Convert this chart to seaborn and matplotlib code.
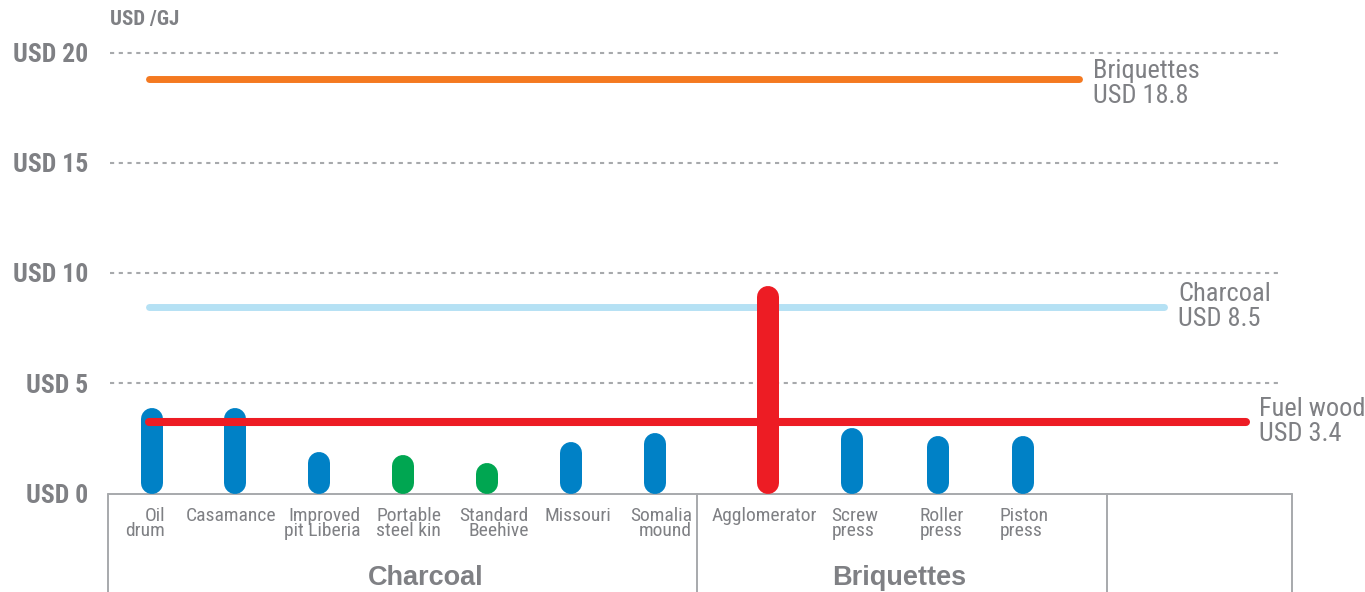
import numpy as np
import pandas as pd
import matplotlib
matplotlib.use("Agg")
import matplotlib.pyplot as plt
import seaborn as sns

# ---------------- data ----------------
categories = ["Oil\ndrum", "Casamance", "Improved\npit Liberia", "Portable\nsteel kin",
              "Standard\nBeehive", "Missouri", "Somalia\nmound",
              "Agglomerator", "Screw\npress", "Roller\npress", "Piston\npress"]
groups = ["Charcoal"] * 7 + ["Briquettes"] * 4
values = [3.9, 3.9, 1.9, 1.75, 1.4, 2.35, 2.75, 9.4, 2.95, 2.6, 2.6]
bar_kind = ["blue", "blue", "blue", "green", "green", "blue", "blue",
            "red", "blue", "blue", "blue"]
ref_names = ["Briquettes", "Charcoal", "Fuel wood"]
ref_values = [18.8, 8.46, 3.25]
ref_labels = ["USD 18.8", "USD 8.5", "USD 3.4"]
y_ticks = [0, 5, 10, 15, 20]
y_tick_labels = ["USD 0", "USD 5", "USD 10", "USD 15", "USD 20"]
unit_label = "USD /GJ"

# ---------------- style ----------------
sns.set_theme(style="white")
NARROW = ["Roboto Condensed", "Fira Sans Condensed", "Liberation Sans Narrow", "DejaVu Sans"]
WIDE = ["Liberation Sans", "DejaVu Sans"]
plt.rcParams["font.family"] = NARROW

GRAY_TXT = "#7f8084"
GRAY_LN = "#a7a9ac"
palette = {"blue": "#0081c6", "green": "#00a651", "red": "#ed1c24"}
ref_colors = ["#f47920", "#b5e1f4", "#ed1c24"]
ref_lw = [5.0, 5.0, 5.8]
ref_zorder = [3, 1, 3]

W, H = 1365, 592
PX_X = 83.9      # pixels per category step
PX_Y = 22.05     # pixels per USD
X0 = 151.5       # pixel of first category
Y0 = 493.5       # pixel of zero line


def px2x(p):
    return (p - X0) / PX_X


def px2y(p):
    return (Y0 - p) / PX_Y


fig = plt.figure(figsize=(W / 100, H / 100), dpi=100)
ax = fig.add_axes([110 / W, (H - Y0) / H, 1170 / W, 21 * PX_Y / H])
ax.set_xlim(px2x(110), px2x(1280))
ax.set_ylim(0, 21)
for s in ax.spines.values():
    s.set_visible(False)
ax.set_xticks([])
ax.set_yticks(y_ticks)
ax.set_yticklabels(y_tick_labels, fontsize=18.5, fontweight="bold", color=GRAY_TXT,
                   family=NARROW)
ax.tick_params(axis="y", length=0, pad=15.8)

# dashed grid
ax.hlines([t for t in y_ticks if t > 0], px2x(110), px2x(1280), colors=GRAY_LN,
          linewidth=1.5, linestyles=(0, (2, 2.2)), zorder=0)

# positions (layout)
positions = [0, 1, 2, 3, 4, 5, 6, 7.35, 8.35, 9.37, 10.39]

# bars as rounded thick lines
bar_lw_px = 22
cap = (bar_lw_px / 2) / PX_Y
rows = []
for i, (x, v, k) in enumerate(zip(positions, values, bar_kind)):
    rows.append({"bar": i, "x": x, "y": cap, "kind": k})
    rows.append({"bar": i, "x": x, "y": max(v - cap, cap), "kind": k})
df = pd.DataFrame(rows)
sns.lineplot(data=df, x="x", y="y", units="bar", estimator=None, hue="kind",
             palette=palette, linewidth=bar_lw_px * 0.72, solid_capstyle="round",
             legend=False, sort=False, ax=ax, zorder=2)
ax.set_xlabel("")
ax.set_ylabel("")

# reference lines
ref_start = [148.5, 148.5, 148.5]
ref_end = [1078.5, 1163.5, 1246]
ref_text_x = [1093, 1178, 1259]
ref_text_dy = [-0.2, 0.0, 0.0]
for name, val, lab, c, lw, z, xs, xe, xt, dy in zip(ref_names, ref_values, ref_labels,
                                                  ref_colors, ref_lw, ref_zorder,
                                                  ref_start, ref_end, ref_text_x, ref_text_dy):
    ax.plot([px2x(xs), px2x(xe)], [val, val], color=c, linewidth=lw,
            solid_capstyle="round", zorder=z, clip_on=False)
    ax.text(px2x(xt), val + dy, f"{name}\n{lab}", ha="left", va="center",
            fontsize=19, color=GRAY_TXT, linespacing=1.05, clip_on=False,
            family=NARROW)

# bottom box
box_x = [108, 697, 1107, 1292]
ax.plot([px2x(box_x[0]), px2x(box_x[-1])], [0, 0], color=GRAY_LN, linewidth=1.4,
        clip_on=False, zorder=1)
for bx in box_x:
    ax.plot([px2x(bx), px2x(bx)], [0, px2y(600)], color=GRAY_LN, linewidth=1.4,
            clip_on=False, zorder=1)

# category labels
label_dx = [-6, -4, 3, 5.5, 7, 7, 6, -3.5, 3, 4.5, 1]
label_align = ["right"] * 8 + ["left"] * 3
for x, lab, dx, al in zip(positions, categories, label_dx, label_align):
    ax.text(x + dx / PX_X, px2y(507), lab, ha="center", va="top", multialignment=al,
            fontsize=14, color=GRAY_TXT, linespacing=0.8, clip_on=False,
            family=NARROW)

# group labels
group_names = list(dict.fromkeys(groups))
group_px = [426, 899]
for g, gx in zip(group_names, group_px):
    ax.text(px2x(gx), px2y(578), g, ha="center", va="center", fontsize=19.5,
            fontweight="bold", color=GRAY_TXT, clip_on=False, family=WIDE)

# unit label
fig.text(110 / W, 1 - 20 / H, unit_label, ha="left", va="center", fontsize=15,
         fontweight="bold", color=GRAY_TXT, family=NARROW)

fig.savefig("out.png", dpi=100, facecolor="white")
